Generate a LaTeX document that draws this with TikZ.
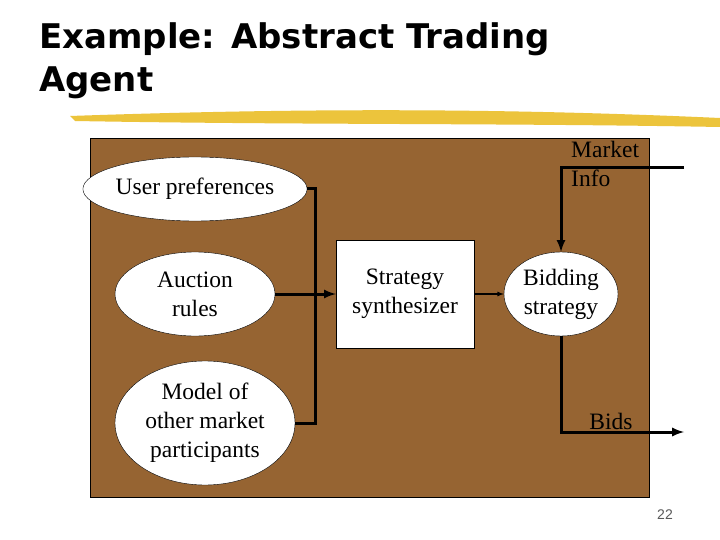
\documentclass[tikz,border=0pt]{standalone}
\usepackage{fontspec}
\setmainfont{Liberation Serif}
\newfontfamily\ttlfont{DejaVu Sans}
\newfontfamily\pgfont{Liberation Sans}
\usetikzlibrary{shapes.geometric}
\definecolor{brushy}{RGB}{236,196,60}
\begin{document}
\begin{tikzpicture}[x=1pt,y=-1pt,
  ell/.style={ellipse,draw=black,fill=white,inner sep=0pt,align=center,font=\fontsize{23.5}{29}\selectfont},
  thick line/.style={line width=3pt},
  >=latex]
\useasboundingbox (0,0) rectangle (720,540);
\fill[white] (0,0) rectangle (720,540);
\node[anchor=north west,align=left,font=\ttlfont\bfseries\fontsize{34}{43}\selectfont,inner sep=0pt] (title) at (39,22) {Example: Abstract Trading\\Agent};
\fill[brushy] (70,116) .. controls (300,108) and (500,108) .. (720,118) -- (720,127) .. controls (500,123) and (300,125) .. (75,121) -- cycle;
\node[draw=black,fill={rgb,255:red,150;green,100;blue,50},minimum width=559,minimum height=359,anchor=north west,inner sep=0pt] (bg) at (90,138) {};
\node[ell,minimum width=196,minimum height=64] (up) at (195,189) {User preferences};
\node[ell,minimum width=160,minimum height=84] (ar) at (195,294) {Auction\\rules};
\node[ell,minimum width=180,minimum height=124] (mo) at (205,423) {Model of\\other market\\participants};
\node[draw=black,fill=white,minimum width=138,minimum height=108,align=center,font=\fontsize{23.5}{29}\selectfont] (ss) at (405,294) {Strategy\\synthesizer};
\node[ell,minimum width=114,minimum height=84] (bs) at (561,294) {Bidding\\strategy};
\coordinate (j) at (315,294);
\coordinate (mi) at (684,168);
\coordinate (bo) at (684,432);
\draw[thick line] (up.east) -| (j);
\draw[thick line] (mo.east) -| (j);
\draw[thick line,->] (ar.east) -- (ss.west);
\draw[line width=1.2pt,->] (ss.east) -- (bs.west);
\draw[thick line,->] (mi) -| (bs.north);
\draw[thick line,->] (bs.south) |- (bo);
\node[align=left,anchor=north west,inner sep=0pt,font=\fontsize{23.5}{29}\selectfont] (mt) at (571,141) {Market\\Info};
\node[anchor=south,inner sep=0pt,font=\fontsize{23.5}{25}\selectfont] (bd) at (611,430) {Bids};
\node[font=\pgfont\fontsize{14}{16}\selectfont,text=gray!70!black] (pg) at (665,515) {22};
\end{tikzpicture}
\end{document}
